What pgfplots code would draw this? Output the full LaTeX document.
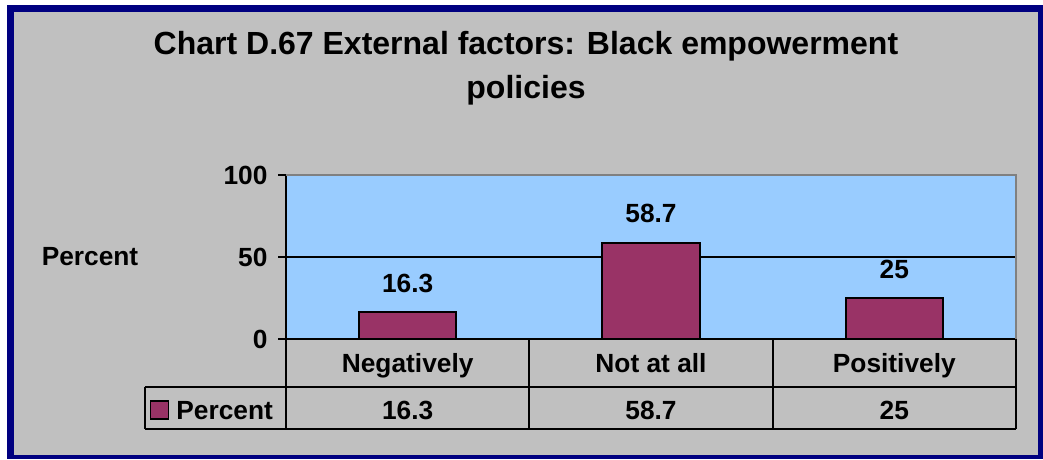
\documentclass[border=0pt]{standalone}
\usepackage{fontspec}
\setmainfont{Liberation Sans}
\usepackage{pgfplots}
\pgfplotsset{compat=1.18}
\definecolor{navyb}{HTML}{000080}
\definecolor{panel}{HTML}{C0C0C0}
\definecolor{plotbg}{HTML}{99CCFF}
\definecolor{barc}{HTML}{993366}
\definecolor{edgegray}{HTML}{808080}
\newcommand{\lbl}{\fontsize{26.3}{30}\selectfont\bfseries}
\newcommand{\ttl}{\fontsize{32}{38}\selectfont\bfseries}

\begin{document}
\begin{tikzpicture}[x=1pt,y=1pt]
\useasboundingbox (0,0) rectangle (1043,459);
\fill[white] (0,0) rectangle (1043,459);
\fill[navyb] (7,0) rectangle (1043,454);
\fill[panel] (14,4) rectangle (1037.5,446.5);
\node[font=\ttl, anchor=base] at (526,404) {Chart D.67 External factors: Black empowerment};
\node[font=\ttl, anchor=base] at (526,361) {policies};
\begin{axis}[
    at={(286pt,120pt)}, anchor=south west,
    width=730pt, height=164pt, scale only axis,
    xmin=-0.5, xmax=2.5, ymin=0, ymax=100,
    xtick={0,1,2},
    xticklabels={Negatively, Not at all, Positively},
    ytick={0,50,100},
    axis x line=bottom, axis y line=left,
    axis line style={-, black, line width=2pt},
    axis background/.style={fill=plotbg},
    ymajorgrids=true,
    grid style={black, line width=2pt},
    tick align=outside,
    major tick length=8pt,
    ytick style={black, line width=2pt},
    xtick style={draw=none},
    tick label style={font=\lbl},
    /pgf/number format/assume math mode=true,
    xticklabel style={anchor=base, yshift=-25pt},
    yticklabel style={xshift=-7pt},
    ylabel={Percent},
    every axis y label/.style={at={(axis description cs:-0.2685,0.5)}, anchor=center, font=\lbl},
    legend style={draw=none, fill=none, at={(axis description cs:-0.101,-0.439)}, anchor=center, font=\lbl},
    clip=false,
]
\addplot[ybar, bar width=0.4, fill=barc, draw=black, line width=2pt,
    nodes near coords,
    nodes near coords style={font=\lbl, anchor=base, yshift=20pt},
    legend image code/.code={\draw[fill=barc, draw=black, line width=1.5pt] (0pt,-8pt) rectangle (18pt,10pt); \path (23pt,0pt);}]
    coordinates {(0,16.3) (1,58.7) (2,25)};
\addlegendentry{Percent}
% data table row
\addplot[draw=none, mark=none, forget plot, point meta=explicit,
    nodes near coords,
    nodes near coords style={font=\lbl, anchor=base, yshift=-80pt}]
    coordinates {(0,0) [16.3] (1,0) [58.7] (2,0) [25]};
% table grid
\draw[line width=2pt] (axis cs:-0.5,0) -- ++(0pt,-90pt);
\draw[line width=2pt] (axis cs:0.5,0) -- ++(0pt,-90pt);
\draw[line width=2pt] (axis cs:1.5,0) -- ++(0pt,-90pt);
\draw[line width=2pt] (axis cs:2.5,0) -- ++(0pt,-90pt);
\draw[line width=2pt] (axis cs:-0.5,0) ++(-141pt,-48pt) -- ++(871pt,0pt);
\draw[line width=2pt] (axis cs:-0.5,0) ++(-141pt,-90pt) -- ++(871pt,0pt);
\draw[line width=2pt] (axis cs:-0.5,0) ++(-141pt,-48pt) -- ++(0pt,-42pt);
% plot area frame
\draw[edgegray, line width=2pt] (axis cs:-0.5,100) -- (axis cs:2.5,100) -- (axis cs:2.5,0);
\end{axis}
\end{tikzpicture}
\end{document}
